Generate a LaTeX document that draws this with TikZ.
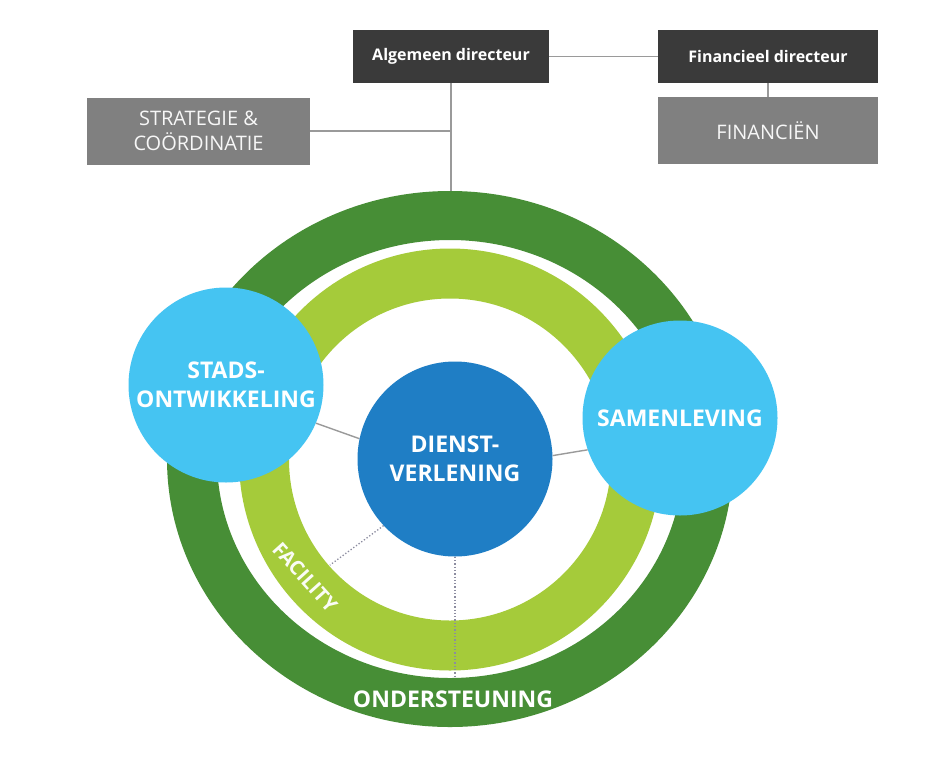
\documentclass[tikz,border=0pt]{standalone}
\usepackage{fontspec}
\setmainfont{Open Sans}
\definecolor{dkgreen}{HTML}{478E36}
\definecolor{ltgreen}{HTML}{A5CB3A}
\definecolor{ltblue}{HTML}{45C4F2}
\definecolor{midblue}{HTML}{1F7EC5}
\definecolor{darkbox}{HTML}{3A3A3A}
\definecolor{graybox}{HTML}{808080}
\definecolor{linegray}{HTML}{9A9A9A}
\definecolor{dotgray}{HTML}{8C8CA0}
\pgfdeclarelayer{bg}
\pgfdeclarelayer{lines}
\pgfsetlayers{bg,lines,main}
\tikzset{
  topbox/.style={fill=darkbox, text=white, font=\bfseries\fontsize{16}{18}\selectfont, minimum height=53pt, inner sep=0pt},
  unitbox/.style={fill=graybox, text=white!94!gray, font=\fontsize{20}{25}\selectfont, align=center, minimum height=67pt, inner sep=0pt},
  bigc/.style={circle, minimum size=195pt, inner sep=0pt, text=white, align=center, font=\bfseries\fontsize{23}{29}\selectfont},
  conn/.style={draw=linegray, line width=1.4pt},
  dotc/.style={draw=dotgray, line width=1.3pt, dotted},
  ringlabel/.style={text=white, font=\bfseries\fontsize{23}{25}\selectfont, inner sep=0pt},
  arclabel/.style={text=white!95!ltgreen, font=\bfseries\fontsize{20}{22}\selectfont, inner sep=0pt}
}
\begin{document}
\begin{tikzpicture}[x=1pt,y=-1pt]
\useasboundingbox (0,0) rectangle (933,766);

% boxes
\node[topbox, minimum width=196pt] (alg) at (451,56.5) {Algemeen directeur};
\node[topbox, minimum width=220pt] (fin) at (768,56.5) {Financieel directeur};
\node[unitbox, minimum width=223pt] (strat) at (198.5,131) {STRATEGIE \&\\COÖRDINATIE};
\node[unitbox, minimum width=220pt] (finan) at (768,130.5) {FINANCIËN};

% circles
\node[bigc, fill=ltblue] (stads) at (226,385) {STADS-\\ONTWIKKELING};
\node[bigc, fill=midblue] (dienst) at (455,459) {DIENST-\\VERLENING};
\node[bigc, fill=ltblue] (samen) at (680,418) {SAMENLEVING};

\coordinate (ringtop) at (451,191);
\coordinate (d1) at (330,565);
\coordinate (d2) at (455,678);

\begin{pgfonlayer}{bg}
  \fill[white] (0,0) rectangle (933,766);
  \fill[dkgreen, even odd rule] (450,459) ellipse [x radius=283pt, y radius=268pt]
                                (450,459) ellipse [x radius=233pt, y radius=219pt];
  \fill[ltgreen, even odd rule] (450,459.5) circle [radius=211pt]
                                (450,459.5) circle [radius=161pt];
\end{pgfonlayer}

\begin{pgfonlayer}{lines}
  \draw[conn] (alg.south) -- (ringtop);
  \draw[conn] (strat.east) -- (strat.east -| alg.south);
  \draw[conn] (alg.east) -- (fin.west);
  \draw[conn] (fin.south) -- (finan.north);
  \draw[conn] (stads.-23) -- (dienst.168);
  \draw[conn] (dienst.2) -- (samen.199);
  \draw[dotc] (dienst.223) -- (d1);
  \draw[dotc] (dienst.-90) -- (d2);
\end{pgfonlayer}

\node[arclabel, rotate=-48] (fac) at (305,577) {FACILITY};
\node[ringlabel] (ond) at (453,699) {ONDERSTEUNING};
\end{tikzpicture}
\end{document}
